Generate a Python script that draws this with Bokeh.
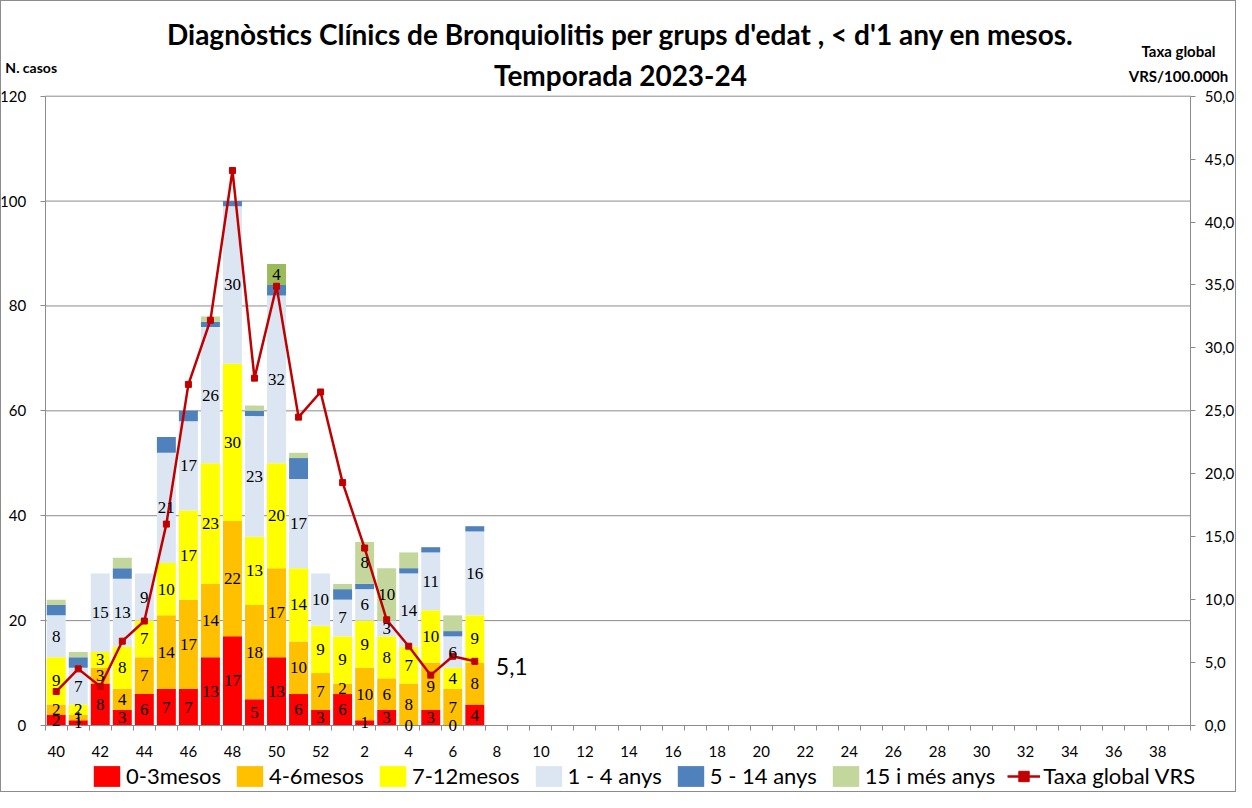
import numpy as np
from bokeh.plotting import figure
from bokeh.models import (ColumnDataSource, Range1d, LinearAxis, FixedTicker,
                          CustomJSTickFormatter, Legend, LegendItem, LabelSet, Label)
from bokeh.embed import file_html
from bokeh.resources import INLINE

# ---------------- data ----------------
weeks = [str(w) for w in list(range(40, 53)) + list(range(1, 40))]
m0_3 = [2, 1, 8, 3, 6, 7, 7, 13, 17, 5, 13, 6, 3, 6, 1, 3, 0, 3, 0, 4]
m4_6 = [2, 1, 3, 4, 7, 14, 17, 14, 22, 18, 17, 10, 7, 2, 10, 6, 8, 9, 7, 8]
m7_12 = [9, 2, 3, 8, 7, 10, 17, 23, 30, 13, 20, 14, 9, 9, 9, 8, 7, 10, 4, 9]
a1_4 = [8, 7, 15, 13, 9, 21, 17, 26, 30, 23, 32, 17, 10, 7, 6, 3, 14, 11, 6, 16]
a5_14 = [2, 2, 0, 2, 0, 3, 2, 1, 1, 1, 2, 4, 0, 2, 1, 0, 1, 1, 1, 1]
a15 = [1, 1, 0, 2, 0, 0, 0, 1, 0, 1, 4, 1, 0, 1, 8, 10, 3, 0, 3, 0]
taxa = [2.7, 4.5, 3.1, 6.7, 8.3, 16.0, 27.1, 32.2, 44.1, 27.6, 34.9, 24.5, 26.5,
        19.3, 14.1, 8.4, 6.3, 4.0, 5.5, 5.1]
left_ticks = [0, 20, 40, 60, 80, 100, 120]
right_ticks = [0, 5, 10, 15, 20, 25, 30, 35, 40, 45, 50]
series_names = ["0-3mesos", "4-6mesos", "7-12mesos", "1 - 4 anys", "5 - 14 anys", "15 i més anys"]
line_name = "Taxa global VRS"
title1 = "Diagnòstics Clínics de Bronquiolitis per grups d'edat , < d'1 any en mesos."
title2 = "Temporada 2023-24"
left_caption = "N. casos"
right_caption = ["Taxa global", "VRS/100.000h"]

# ---------------- styles / geometry ----------------
FONT = "Lato"
colors = ["#FF0000", "#FFC000", "#FFFF00", "#DCE6F2", "#4F81BD", "#C3D69B"]
HILITE_GREEN = "#9BBB59"
GRID = "#8C8C8C"
LINE = "#C00000"

W, H, OFF = 1236, 792, 8          # figure size and page margin
PL, PR, PT, PB = 51.7, 1197.3, 102.7, 732.0   # plot area on the page (px)

ymax = left_ticks[-1]
rmax = right_ticks[-1]
ncat = len(weeks)
XS = (PR - PL) / ncat
YS = (PB - PT) / ymax
x_lo = -0.5 - (PL - OFF) / XS
x_hi = ncat - 0.5 + (OFF + W - PR) / XS
y_lo = -(OFF + H - PB) / YS
y_hi = ymax + (PT - OFF) / YS


def xd(px):
    return -0.5 + (px - PL) / XS


def yd(py):
    return (PB - py) / YS


series = [m0_3, m4_6, m7_12, a1_4, a5_14, a15]
n = len(m0_3)
xs = list(range(n))

p = figure(width=W, height=H, x_range=Range1d(x_lo, x_hi), y_range=Range1d(y_lo, y_hi),
           output_backend="svg", toolbar_location=None,
           min_border_left=0, min_border_right=0, min_border_top=0, min_border_bottom=0)
p.outline_line_color = None
p.background_fill_color = "white"
p.border_fill_color = "white"
p.styles = {"border": "1px solid #8C8C8C"}
p.xgrid.visible = False
p.ygrid.visible = False

# horizontal rules at left-axis ticks, across the plot area
p.segment(x0=[-0.5] * len(left_ticks), x1=[ncat - 0.5] * len(left_ticks),
          y0=left_ticks, y1=left_ticks, line_color=GRID, line_width=1)

# stacked bars
bottoms = np.zeros(n)
bar_renderers = []
for i, (vals, name) in enumerate(zip(series, series_names)):
    vals = np.array(vals, dtype=float)
    fill = [colors[i]] * n
    if i == 5:
        fill = [HILITE_GREEN if weeks[k] == "50" else colors[i] for k in range(n)]
    src = ColumnDataSource(dict(x=xs, bottom=bottoms.copy(), top=bottoms + vals, fill=fill))
    r = p.vbar(x="x", bottom="bottom", top="top", width=0.86, fill_color="fill",
               line_color=None, source=src)
    bar_renderers.append(r)
    lx, ly, lt = [], [], []
    for k in range(n):
        v = vals[k]
        show = (i <= 3) or (i == 5 and v >= 4)
        if i > 0 and v == 0:
            show = False
        if show:
            lx.append(k)
            ly.append(bottoms[k] + v / 2.0)
            lt.append(str(int(v)))
    lsrc = ColumnDataSource(dict(x=lx, y=ly, t=lt))
    p.add_layout(LabelSet(x="x", y="y", text="t", source=lsrc, text_align="center",
                          text_baseline="middle", text_font=FONT, text_font_size="17px",
                          text_color="black"))
    bottoms = bottoms + vals

# right axis + line
p.extra_y_ranges = {"rate": Range1d(y_lo * rmax / ymax, y_hi * rmax / ymax)}
lsrc = ColumnDataSource(dict(x=xs, y=taxa))
line_r = p.line("x", "y", source=lsrc, y_range_name="rate", line_color=LINE, line_width=2.5)
mk_r = p.scatter("x", "y", source=lsrc, y_range_name="rate", marker="square", size=6,
                 fill_color=LINE, line_color=LINE)
p.add_layout(Label(x=n - 1, y=taxa[-1], y_range_name="rate", x_offset=21, y_offset=-5,
                   text=f"{taxa[-1]:.1f}".replace(".", ","), text_font=FONT, text_color="black",
                   text_font_size="23px", text_align="left", text_baseline="middle"))

# axes (fixed at the plot-area edges)
yax = p.yaxis[0]
yax.ticker = FixedTicker(ticks=left_ticks)
yax.fixed_location = -0.5
yax.bounds = (0, ymax)
ry = LinearAxis(y_range_name="rate", ticker=FixedTicker(ticks=right_ticks),
                formatter=CustomJSTickFormatter(code="return tick.toFixed(1).replace('.', ',');"))
ry.fixed_location = ncat - 0.5
ry.bounds = (0, rmax)
p.add_layout(ry, "right")
for ax in [yax, ry]:
    ax.axis_line_color = GRID
    ax.major_tick_line_color = GRID
    ax.major_tick_out = 5
    ax.major_tick_in = 0
    ax.minor_tick_line_color = None
    ax.major_label_text_font = FONT
    ax.major_label_text_font_size = "15px"
    ax.major_label_text_color = "black"
yax.major_label_standoff = 14
ry.major_label_standoff = 9

xax = p.xaxis[0]
xax.fixed_location = 0
xax.bounds = (-0.5, ncat - 0.5)
xax.ticker = FixedTicker(ticks=list(range(0, ncat, 2)),
                         minor_ticks=[k - 0.5 for k in range(ncat + 1)])
xax.formatter = CustomJSTickFormatter(args=dict(labels=weeks),
                                      code="const i = Math.round(tick); return (i >= 0 && i < labels.length) ? labels[i] : '';")
xax.axis_line_color = GRID
xax.major_tick_line_color = None
xax.minor_tick_line_color = GRID
xax.minor_tick_out = 5
xax.minor_tick_in = 0
xax.major_label_standoff = 14
xax.major_label_text_font = FONT
xax.major_label_text_font_size = "15px"
xax.major_label_text_color = "black"


# titles / axis captions
def add_text(px, py, txt, size, bold=True):
    p.add_layout(Label(x=xd(px), y=yd(py), text=txt, text_font=FONT, text_color="black",
                       text_font_style="bold" if bold else "normal",
                       text_font_size=size, text_align="center", text_baseline="middle"))


add_text(627, 40, title1, "28px")
add_text(627, 81, title2, "28px")
add_text(37.7, 74, left_caption, "14px")
add_text(1185, 57, right_caption[0], "15px")
add_text(1185, 82, right_caption[1], "15px")

# legend
items = [LegendItem(label=nm, renderers=[r], index=0) for nm, r in zip(series_names, bar_renderers)]
items.append(LegendItem(label=line_name, renderers=[line_r, mk_r]))
legend = Legend(items=items, orientation="horizontal", location=(89, 4),
                label_text_font=FONT, label_text_font_size="22px", label_text_color="black",
                glyph_width=33, glyph_height=26,
                spacing=12, label_standoff=3, padding=0, margin=0, border_line_color=None,
                background_fill_alpha=0)
p.add_layout(legend)

open("out.html", "w").write(file_html(p, INLINE))
